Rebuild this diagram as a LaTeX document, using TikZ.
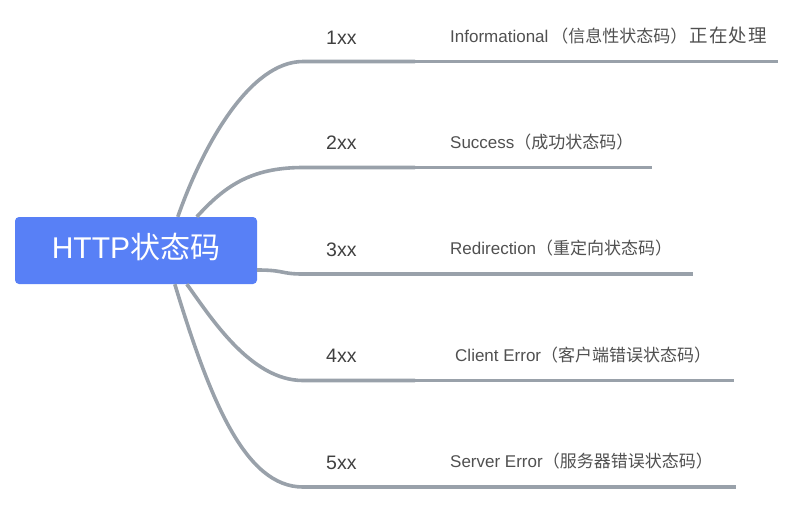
\documentclass[tikz,border=0pt]{standalone}
\usepackage{fontspec}
\setmainfont{Liberation Sans}
\newfontfamily\cjkfont{Noto Sans CJK SC}
\definecolor{rootblue}{RGB}{88,128,246}
\definecolor{branchgray}{RGB}{153,161,170}
\definecolor{lvlone}{RGB}{64,64,64}
\definecolor{lvltwo}{RGB}{80,80,80}
\newcommand{\zh}[1]{{\cjkfont #1}}
\newcommand{\widezh}[1]{\makebox[19.5pt]{\fontsize{18.5}{20}\cjkfont #1}}
\begin{document}
\begin{tikzpicture}[x=1pt,y=-1pt,
  rootbox/.style={fill=rootblue, rounded corners=4pt, minimum width=242pt,
    minimum height=67pt, inner sep=0pt, text=white,
    font=\fontsize{30}{36}\selectfont, text height=15pt, text depth=0pt},
  codelabel/.style={anchor=base west, inner sep=0pt, text=lvlone,
    font=\fontsize{19.5}{23}\selectfont},
  desclabel/.style={anchor=base west, inner sep=0pt, text=lvltwo,
    font=\fontsize{17}{20}\selectfont},
  branchline/.style={draw=branchgray, line width=3.6pt},
]
\useasboundingbox (0,0) rectangle (795,504);

% root
\node[rootbox] (root) at (136,250.5) {HTTP\zh{状态码}};

% attachment points on the root
\coordinate (r1) at ([xshift=163pt]root.north west);
\coordinate (r2) at ([xshift=182pt]root.north west);
\coordinate (r3) at ([yshift=-19.5pt]root.east);
\coordinate (r4) at ([xshift=172pt]root.south west);
\coordinate (r5) at ([xshift=160pt]root.south west);

% level-1 labels
\node[codelabel] (k1) at (326,44) {1xx};
\node[codelabel] (k2) at (326,149.5) {2xx};
\node[codelabel] (k3) at (326,256) {3xx};
\node[codelabel] (k4) at (326,362) {4xx};
\node[codelabel] (k5) at (326,469) {5xx};

% level-2 labels
\node[desclabel] (d1) at (450,42) {Informational\zh{\hspace{3pt}（信息性状态码）\hspace{2pt}}\widezh{正}\widezh{在}\widezh{处}\widezh{理}};
\node[desclabel] (d2) at (450,148) {Success\zh{（成功状态码）}};
\node[desclabel] (d3) at (450,254.5) {Redirection\zh{（重定向状态码）}};
\node[desclabel] (d4) at (455,361) {Client Error\zh{（客户端错误状态码）}};
\node[desclabel] (d5) at (450,467.5) {Server Error\zh{（服务器错误状态码）}};

% line points
\coordinate (a1) at (303,61.5);  \coordinate (b1) at (415,61.5);  \coordinate (e1) at (778,61.5);
\coordinate (a2) at (303,167.5); \coordinate (b2) at (415,167.5); \coordinate (e2) at (652,167.5);
\coordinate (a3) at (303,274);   \coordinate (b3) at (415,274);   \coordinate (e3) at (693,274);
\coordinate (a4) at (303,380.5); \coordinate (b4) at (415,380.5); \coordinate (e4) at (734,380.5);
\coordinate (a5) at (303,487);   \coordinate (b5) at (415,487);   \coordinate (e5) at (736,487);

% connectors root -> level 1
\draw[branchline] (r1) .. controls (203,145) and (250,61.5) .. (a1) -- (b1);
\draw[branchline] (r2) .. controls (224,187) and (250,167.5) .. (a2) -- (b2);
\draw[branchline] (r3) .. controls (285,270) and (280,274) .. (a3) -- (b3);
\draw[branchline] (r4) .. controls (210,316) and (250,380.5) .. (a4) -- (b4);
\draw[branchline] (r5) .. controls (210,400) and (245,487) .. (a5) -- (b5);

% level 1 -> level 2 underlines
\draw[branchline] (b1) -- (e1);
\draw[branchline] (b2) -- (e2);
\draw[branchline] (b3) -- (e3);
\draw[branchline] (b4) -- (e4);
\draw[branchline] (b5) -- (e5);
\end{tikzpicture}
\end{document}
